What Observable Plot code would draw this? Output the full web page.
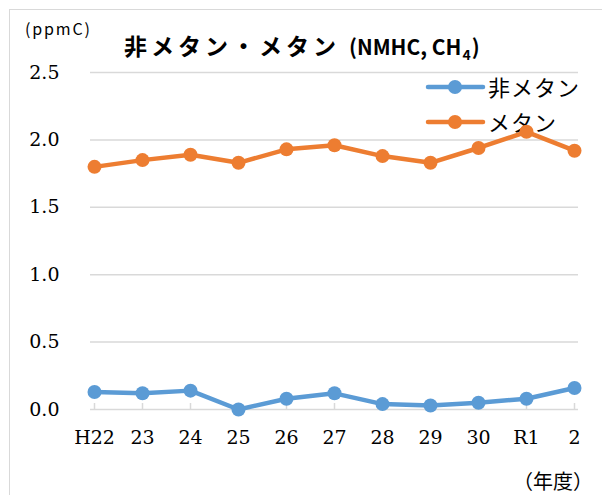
<!DOCTYPE html>
<html>
<head>
<meta charset="utf-8">
<script src="https://cdn.jsdelivr.net/npm/d3@7"></script>
<script src="https://cdn.jsdelivr.net/npm/@observablehq/plot@0.6"></script>
<style>
  body { margin: 0; background: #fff; }
  #wrap { position: relative; width: 602px; height: 495px; overflow: hidden; background: #fff; }
  #border { position: absolute; left: 9px; top: 9px; right: -20px; bottom: -20px; border: 1.5px solid #d9d9d9; }
  #overlay, #chart { position: absolute; left: 0; top: 0; }
  #chart svg { background: transparent; }
</style>
</head>
<body>
<div id="wrap">
  <div id="border"></div>
  <svg id="overlay" width="602" height="495"></svg>
  <div id="chart"></div>
</div>
<script>
// ---- data ----
const years = ["H22", "23", "24", "25", "26", "27", "28", "29", "30", "R1", "2"];
const nonMethane = [0.13, 0.12, 0.14, 0.00, 0.08, 0.12, 0.04, 0.03, 0.05, 0.08, 0.16];
const methane = [1.80, 1.85, 1.89, 1.83, 1.93, 1.96, 1.88, 1.83, 1.94, 2.06, 1.92];
const yTicks = [0, 0.5, 1.0, 1.5, 2.0, 2.5];
const seriesNames = ["非メタン", "メタン"];
const seriesColors = ["#5B9BD5", "#ED7D31"];
const titleMain = "非メタン・メタン";
const titleLatin = "(NMHC, CH";
const titleSub = "4";
const titleEnd = ")";
const yUnit = "(ppmC)";
const xUnit = "（年度）";

const seriesValues = [nonMethane, methane];
const rows = [];
seriesNames.forEach((s, i) => {
  years.forEach((y, j) => rows.push({ series: s, year: y, value: seriesValues[i][j] }));
});

const W = 602, H = 495, mT = 72, mB = 86, mL = 90, mR = 24;
const plotH = H - mT - mB;

const chart = Plot.plot({
  width: W, height: H,
  marginTop: mT, marginBottom: mB, marginLeft: mL, marginRight: mR,
  style: { fontFamily: "DejaVu Serif", fontSize: "19px", color: "#000", background: "transparent", overflow: "visible" },
  x: { type: "point", domain: years, padding: 0, label: null },
  y: { domain: [0, 2.5], ticks: yTicks, tickFormat: d3.format(".1f"), label: null },
  color: { domain: seriesNames, range: seriesColors },
  marks: [
    Plot.ruleY(yTicks, { y: d => d, stroke: "#d9d9d9", strokeWidth: 1.5 }),
    Plot.ruleX(years, { x: d => d, stroke: "#d9d9d9", strokeWidth: 1.5, insetTop: plotH - 6 }),
    Plot.axisY({ ticks: yTicks, tickSize: 0, tickPadding: 31, tickFormat: d3.format(".1f"), label: null, fill: "#000" }),
    Plot.axisX({ tickSize: 0, tickPadding: 21, label: null, fill: "#000" }),
    Plot.line(rows, { x: "year", y: "value", z: "series", stroke: "series", strokeWidth: 4.5, strokeLinejoin: "round" }),
    Plot.dot(rows, { x: "year", y: "value", fill: "series", r: 7 })
  ]
});
document.getElementById("chart").appendChild(chart);

// ---- overlay texts & legend ----
const ov = d3.select("#overlay");
const jp = "'Noto Sans CJK JP', sans-serif";

ov.append("text").attr("x", 25).attr("y", 35).attr("font-family", jp).attr("font-size", 16)
  .attr("textLength", 65).attr("lengthAdjust", "spacing").text(yUnit);

const t = ov.append("g").attr("font-family", jp).attr("font-weight", "bold").attr("fill", "#000");
t.append("text").attr("x", 124).attr("y", 55).attr("font-size", 23)
  .attr("textLength", 212).attr("lengthAdjust", "spacing").text(titleMain);
const lat = t.append("text").attr("x", 349).attr("y", 55).attr("font-size", 21);
lat.append("tspan").text(titleLatin);
lat.append("tspan").attr("dy", 5).attr("font-size", 14).attr("dx", 1).text(titleSub);
lat.append("tspan").attr("dy", -5).attr("dx", 1).text(titleEnd);

ov.append("text").attr("x", 513).attr("y", 489).attr("font-family", jp).attr("font-size", 20).text(xUnit);

const legY = [87, 122];
seriesNames.forEach((s, i) => {
  const g = ov.append("g");
  g.append("line").attr("x1", 428).attr("x2", 483).attr("y1", legY[i]).attr("y2", legY[i])
    .attr("stroke", seriesColors[i]).attr("stroke-width", 4.5).attr("stroke-linecap", "round");
  g.append("circle").attr("cx", 455).attr("cy", legY[i]).attr("r", 7).attr("fill", seriesColors[i]);
  g.append("text").attr("x", 488).attr("y", legY[i] + 8.5).attr("font-family", jp).attr("font-size", 22)
    .attr("letter-spacing", 1).attr("fill", "#000").text(s);
});
</script>
</body>
</html>
